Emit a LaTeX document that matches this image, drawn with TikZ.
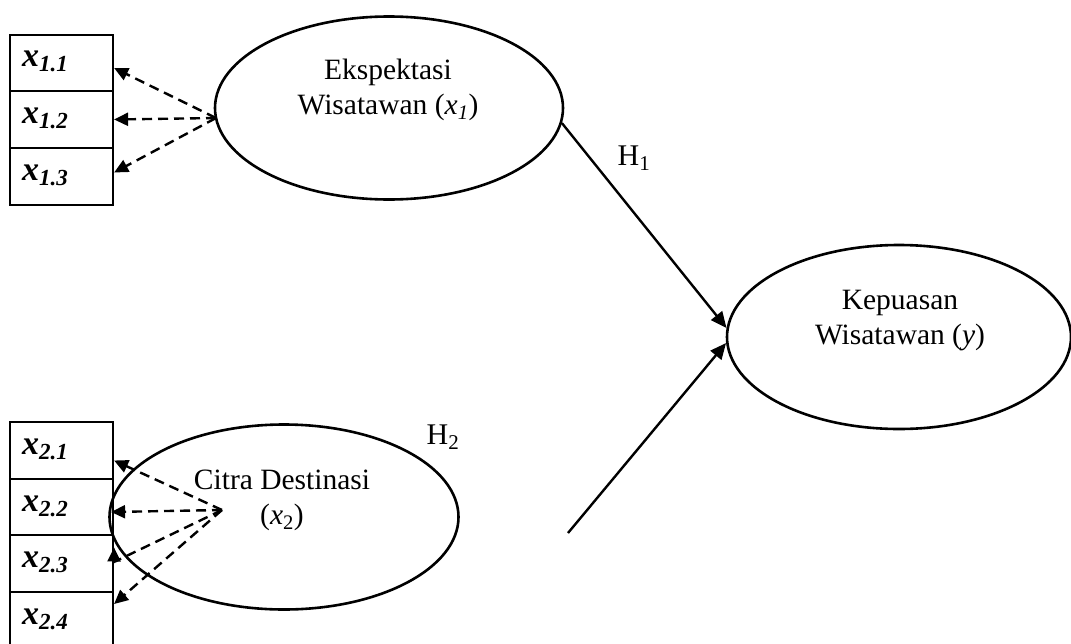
\documentclass[tikz,border=0pt]{standalone}
\usepackage{fontspec}
\setmainfont{Liberation Serif}
\usetikzlibrary{shapes.geometric,arrows.meta}
\tikzset{
  lat/.style={ellipse, draw, line width=2.6pt, inner sep=0pt},
  ind/.style={draw, line width=2.2pt, minimum width=103pt, inner sep=0pt},
  lbl/.style={align=center, font=\fontsize{29.5}{35}\selectfont, inner sep=0pt},
  ind text/.style={anchor=base west, inner sep=0pt},
  dash arrow/.style={line width=2.4pt, dash pattern=on 10pt off 6pt, -{Triangle[length=14pt,width=13pt]}},
  path arrow/.style={line width=2.4pt, -{Triangle[length=16pt,width=14pt]}},
  hyp/.style={font=\fontsize{30}{30}\selectfont, inner sep=0pt}
}
\newcommand{\indlab}[1]{{\fontsize{34}{34}\selectfont\bfseries\itshape x}{\fontsize{23}{23}\selectfont\bfseries\itshape\raisebox{-5pt}{#1}}}
\begin{document}
\begin{tikzpicture}[x=1pt,y=-1pt]
\useasboundingbox (0,0) rectangle (1071,643);
\clip (0,0) rectangle (1071,643);
% latent variables
\node[lat, minimum width=348pt, minimum height=183pt] (e1) at (389,108) {};
\node[lbl] (t1) at (388,90) {Ekspektasi\\Wisatawan (\textit{x\textsubscript{1}})};
\node[lat, minimum width=344pt, minimum height=184pt] (e3) at (899,337) {};
\node[lbl] (t3) at (900,321) {Kepuasan\\Wisatawan (\textit{y})};
\node[lat, minimum width=349pt, minimum height=185pt] (e2) at (284,517) {};
\node[lbl] (t2) at (282,500) {Citra Destinasi\\(\textit{x}\textsubscript{2})};
% indicator boxes top
\node[ind, minimum height=56pt] (b11) at (61.5,63) {};
\node[ind, minimum height=57pt] (b12) at (61.5,119.5) {};
\node[ind, minimum height=57pt] (b13) at (61.5,176.5) {};
\node[ind text] (l11) at (22,66) {\indlab{1.1}};
\node[ind text] (l12) at (22,123) {\indlab{1.2}};
\node[ind text] (l13) at (22,180) {\indlab{1.3}};
% indicator boxes bottom
\node[ind, minimum height=57pt] (b21) at (61.5,450.5) {};
\node[ind, minimum height=56pt] (b22) at (61.5,507) {};
\node[ind, minimum height=57pt] (b23) at (61.5,563.5) {};
\node[ind, minimum height=60pt] (b24) at (61.5,622) {};
\node[ind text] (l21) at (22,454) {\indlab{2.1}};
\node[ind text] (l22) at (22,511) {\indlab{2.2}};
\node[ind text] (l23) at (22,567) {\indlab{2.3}};
\node[ind text] (l24) at (22,624) {\indlab{2.4}};
% dashed loadings top
\coordinate (o1) at (216,118);
\draw[dash arrow] (o1) -- ([yshift=-5pt]b11.east);
\draw[dash arrow] (o1) -- (b12.east);
\draw[dash arrow] (o1) -- ([yshift=4pt]b13.east);
% dashed loadings bottom
\coordinate (o2) at (222,510);
\draw[dash arrow] (o2) -- ([yshift=-10pt]b21.east);
\draw[dash arrow] (o2) -- ([xshift=-3pt,yshift=-5pt]b22.east);
\coordinate (c23) at (114,562);
\draw[dash arrow] (o2) -- (c23) -- ([yshift=16pt]b23.east);
\draw[dash arrow] (o2) -- ([yshift=18pt]b24.east);
% structural paths
\draw[path arrow] (e1.-5) -- (e3.177.5);
\coordinate (h2s) at (568,533);
\draw[path arrow] (h2s) -- (e3.182.5);
\node[hyp] (h1) at (634,158) {H\textsubscript{1}};
\node[hyp] (h2) at (443,437) {H\textsubscript{2}};
\end{tikzpicture}
\end{document}
